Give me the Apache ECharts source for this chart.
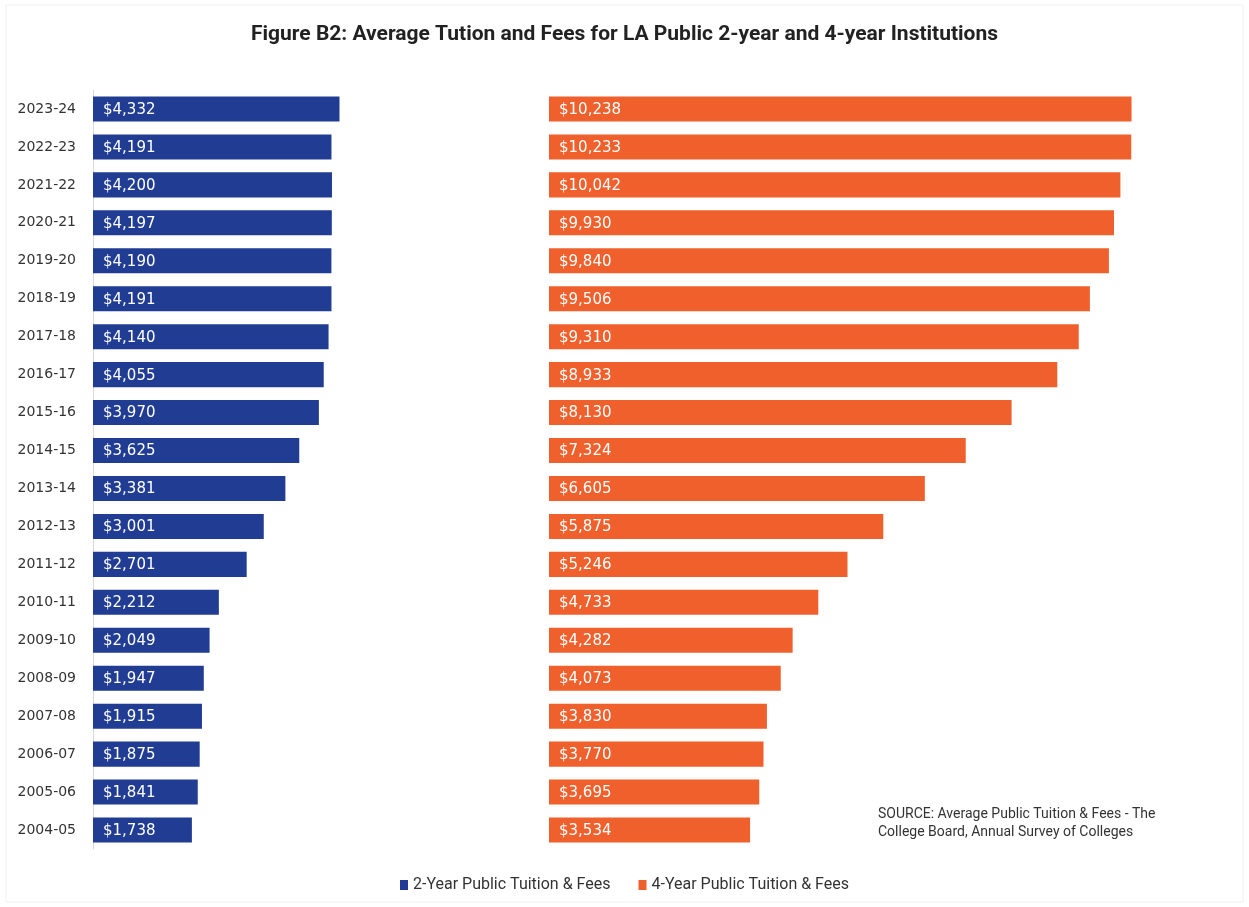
<!DOCTYPE html>
<html>
<head>
<meta charset="utf-8">
<script src="https://cdn.jsdelivr.net/npm/echarts@6/dist/echarts.min.js"></script>
<style>
html,body{margin:0;padding:0;background:#fff;}
#c{width:1249px;height:907px;}
</style>
</head>
<body>
<div id="c"></div>
<script>
const years = ['2004-05','2005-06','2006-07','2007-08','2008-09','2009-10','2010-11','2011-12','2012-13','2013-14','2014-15','2015-16','2016-17','2017-18','2018-19','2019-20','2020-21','2021-22','2022-23','2023-24'];
const twoYear = [1738,1841,1875,1915,1947,2049,2212,2701,3001,3381,3625,3970,4055,4140,4191,4190,4197,4200,4191,4332];
const fourYear = [3534,3695,3770,3830,4073,4282,4733,5246,5875,6605,7324,8130,8933,9310,9506,9840,9930,10042,10233,10238];
const seriesNames = ['2-Year Public Tuition & Fees','4-Year Public Tuition & Fees'];
const titleText = 'Figure B2: Average Tution and Fees for LA Public 2-year and 4-year Institutions';
const sourceLines = ['SOURCE: Average Public Tuition & Fees - The','College Board, Annual Survey of Colleges'];

const k = 0.0569; // px per dollar
const leftMax = 5000, rightMax = 12000;
const fmt = v => '$' + v.toLocaleString('en-US');
const chart = echarts.init(document.getElementById('c'), null, {renderer:'canvas'});
const labelCfg = {show:true, position:'insideLeft', distance:10, color:'#fff', fontSize:15, fontFamily:'DejaVu Sans, sans-serif', formatter:p=>fmt(p.value), offset:[0,1]};
chart.setOption({
  backgroundColor:'#fff',
  animation:false,
  title:{text:titleText, left:'center', top:19, textStyle:{fontFamily:'Roboto, sans-serif', fontWeight:'bold', fontSize:21, color:'#222'}},
  legend:{data:seriesNames, bottom:9, left:'center', icon:'rect', itemWidth:8, itemHeight:10, itemGap:28,
    textStyle:{fontFamily:'Roboto, sans-serif', fontSize:16, color:'#333'}},
  graphic:[{type:'text', left:878, top:805, style:{text:sourceLines.join('\n'), fontFamily:'Roboto, sans-serif', fontSize:14, lineHeight:18, fill:'#333'}},
    {type:'rect', shape:{x:6,y:5,width:1237,height:897}, style:{fill:'none', stroke:'#f0f0f0', lineWidth:1}, silent:true}],
  grid:[
    {left:93, top:90, width:leftMax*k, height:759},
    {left:549, top:90, width:rightMax*k, height:759}
  ],
  xAxis:[
    {type:'value', gridIndex:0, min:0, max:leftMax, show:false},
    {type:'value', gridIndex:1, min:0, max:rightMax, show:false}
  ],
  yAxis:[
    {type:'category', gridIndex:0, data:years, axisTick:{show:false}, axisLine:{show:true, lineStyle:{color:'#d9d9d9'}},
     axisLabel:{color:'#333', fontSize:14, fontFamily:'DejaVu Sans, sans-serif', margin:17}},
    {type:'category', gridIndex:1, data:years, show:false}
  ],
  series:[
    {name:seriesNames[0], type:'bar', xAxisIndex:0, yAxisIndex:0, data:twoYear, barCategoryGap:'34%', itemStyle:{color:'#203d93'}, label:labelCfg},
    {name:seriesNames[1], type:'bar', xAxisIndex:1, yAxisIndex:1, data:fourYear, barCategoryGap:'34%', itemStyle:{color:'#f0602c'}, label:labelCfg}
  ]
});
</script>
</body>
</html>
